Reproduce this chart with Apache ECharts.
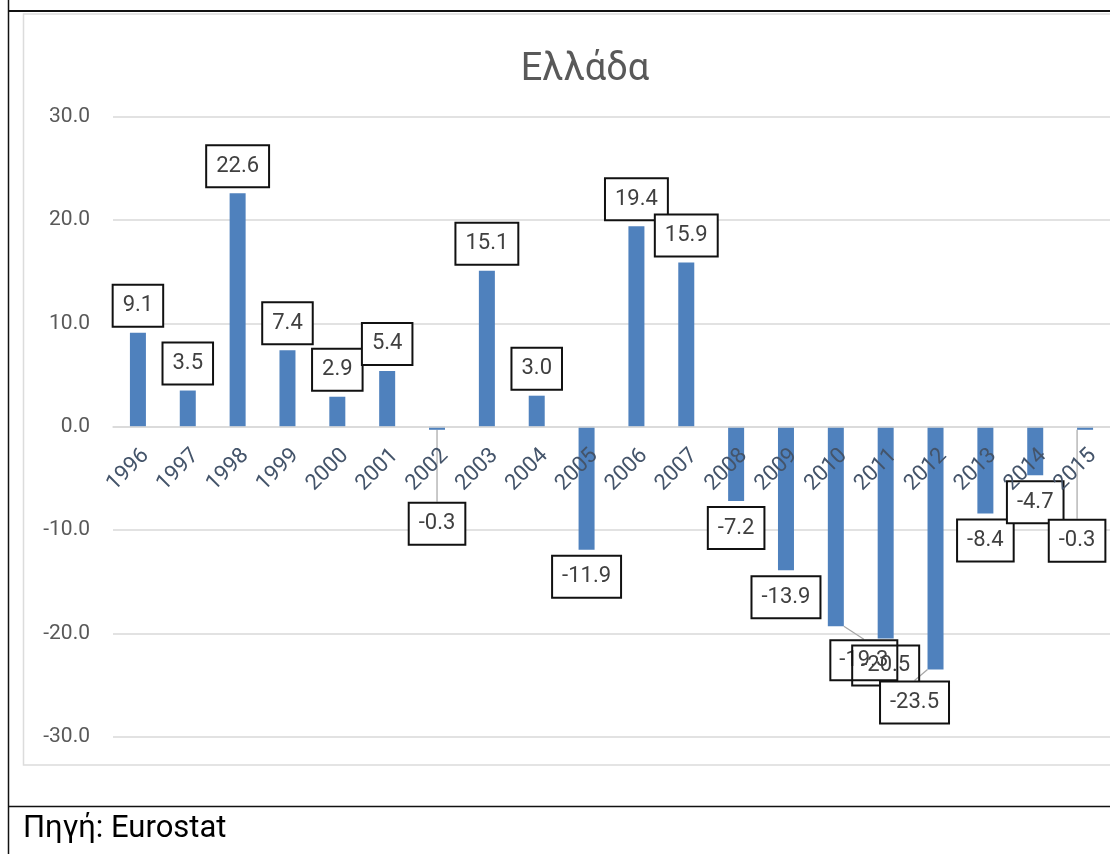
<!DOCTYPE html>
<html>
<head>
<meta charset="utf-8">
<script src="https://cdn.jsdelivr.net/npm/echarts@6/dist/echarts.min.js"></script>
<style>
  html, body { margin: 0; padding: 0; background: #fff; }
  #chart { width: 1110px; height: 854px; }
</style>
</head>
<body>
<div id="chart"></div>
<script>
// Annual change (%) for Greece, 1996–2015
const years = ['1996', '1997', '1998', '1999', '2000', '2001', '2002', '2003', '2004', '2005',
               '2006', '2007', '2008', '2009', '2010', '2011', '2012', '2013', '2014', '2015'];
const growth = [9.1, 3.5, 22.6, 7.4, 2.9, 5.4, -0.3, 15.1, 3.0, -11.9,
                19.4, 15.9, -7.2, -13.9, -19.3, -20.5, -23.5, -8.4, -4.7, -0.3];
const chartTitle = 'Ελλάδα';
const sourceNote = 'Πηγή: Eurostat';

// Hand-placed labels (pixel shifts by data index) that get a leader line
const labelShift = { 6: [0, 67], 14: [28, 7], 16: [-21, 6], 19: [-8, 84] };
// Overlapping pair of labels drawn without fill so both values stay readable
const clearLabels = [14, 15];

const yMin = -30, yMax = 30, yStep = 10;
const gridTop = 116.7, gridHeight = 620;

const seriesData = growth.map(function (v, i) {
  const item = {
    value: v,
    label: { position: v >= 0 ? 'top' : 'bottom' }
  };
  if (labelShift[i]) item.labelLine = { show: true };
  if (clearLabels.indexOf(i) >= 0) item.label.backgroundColor = 'none';
  return item;
});

const chart = echarts.init(document.getElementById('chart'), null, { renderer: 'canvas' });

chart.setOption({
  animation: false,
  backgroundColor: '#fff',
  title: {
    text: chartTitle,
    left: 580,
    top: 46,
    textAlign: 'center',
    textStyle: { fontFamily: 'Roboto', fontSize: 38, fontWeight: 'normal', color: '#595959' }
  },
  grid: { left: 113, top: gridTop, width: 1000, height: gridHeight, containLabel: false },
  xAxis: {
    type: 'category',
    data: years,
    position: 'bottom',
    z: 5,
    // category axis sits on the zero line of the value axis
    offset: -gridHeight * (0 - yMin) / (yMax - yMin),
    axisLine: { onZero: false, lineStyle: { color: '#d9d9d9', width: 1.5 } },
    axisTick: { show: false },
    axisLabel: {
      rotate: 45,
      interval: 0,
      margin: 18,
      verticalAlign: 'top',
      fontFamily: 'Roboto',
      fontSize: 22,
      color: '#44546A'
    }
  },
  yAxis: {
    type: 'value',
    min: yMin,
    max: yMax,
    interval: yStep,
    axisLine: { show: false },
    axisTick: { show: false },
    splitLine: { lineStyle: { color: '#d9d9d9', width: 1.5 } },
    axisLabel: {
      margin: 23,
      fontFamily: 'Roboto',
      fontSize: 21,
      color: '#595959',
      formatter: function (v) { return v.toFixed(1); }
    }
  },
  series: [{
    type: 'bar',
    data: seriesData,
    barWidth: 16,
    itemStyle: { color: '#4F81BD' },
    label: {
      show: true,
      distance: 7,
      formatter: function (p) { return p.value.toFixed(1); },
      fontFamily: 'Roboto',
      fontSize: 22,
      lineHeight: 26,
      color: '#404040',
      backgroundColor: '#fff',
      borderColor: '#111',
      borderWidth: 2,
      padding: [7, 9, 7, 9]
    },
    labelLine: { show: false, lineStyle: { color: '#a6a6a6', width: 1.2 } },
    labelLayout: function (params) {
      const s = labelShift[params.dataIndex];
      return s ? { dx: s[0], dy: s[1] } : {};
    }
  }],
  graphic: [
    { type: 'rect', z: -10, silent: true,
      shape: { x: 23.5, y: 14, width: 1110, height: 751 },
      style: { fill: 'none', stroke: '#dcdcdc', lineWidth: 1.5 } },
    { type: 'line', z: 10, silent: true,
      shape: { x1: 8.5, y1: 0, x2: 8.5, y2: 854 },
      style: { stroke: '#111', lineWidth: 1.5 } },
    { type: 'line', z: 10, silent: true,
      shape: { x1: 8, y1: 11, x2: 1110, y2: 11 },
      style: { stroke: '#111', lineWidth: 2 } },
    { type: 'line', z: 10, silent: true,
      shape: { x1: 8, y1: 806.5, x2: 1110, y2: 806.5 },
      style: { stroke: '#111', lineWidth: 1.5 } },
    { type: 'text', z: 10, silent: true,
      x: 23, y: 829,
      style: { text: sourceNote, fontFamily: 'Roboto', fontSize: 31, fill: '#000',
               align: 'left', verticalAlign: 'middle' } }
  ]
});
</script>
</body>
</html>
